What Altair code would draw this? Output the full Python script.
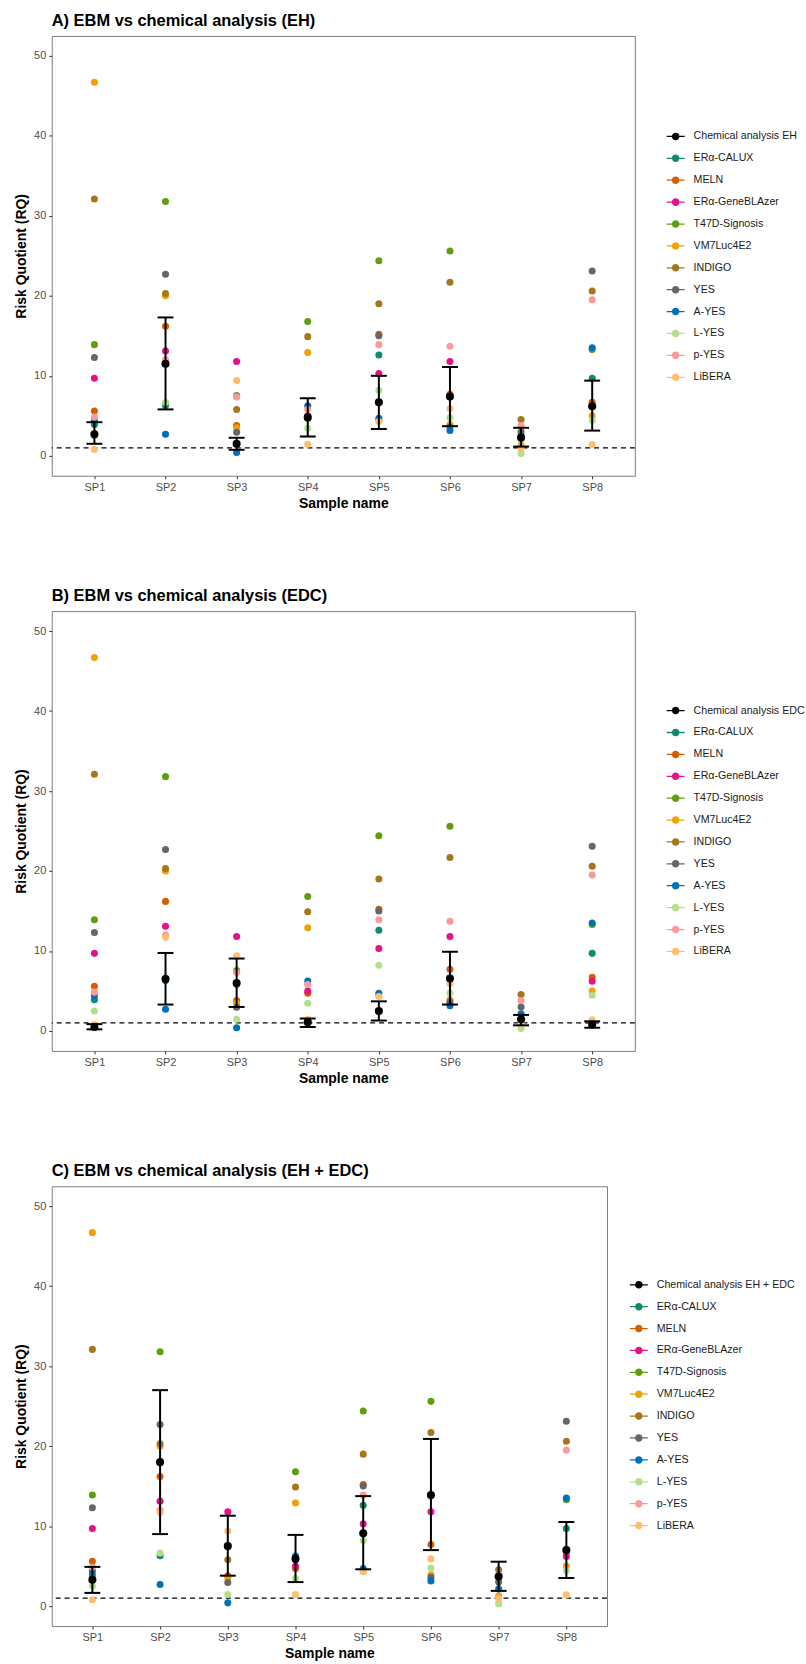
import altair as alt
import pandas as pd

samples = ["SP1", "SP2", "SP3", "SP4", "SP5", "SP6", "SP7", "SP8"]

assays = ["ERα-CALUX", "MELN", "ERα-GeneBLAzer", "T47D-Signosis", "VM7Luc4E2",
          "INDIGO", "YES", "A-YES", "L-YES", "p-YES", "LiBERA"]
assay_colors = ["#0E8A6E", "#D55E00", "#E6128A", "#5E9E0F", "#F0A202",
                "#A6761D", "#666666", "#0070B8", "#B2DF8A", "#FB9A99", "#FDBF6F"]

# EBM risk quotients per assay (SP1..SP8); None = not shown
rq_calux = [3.9, 6.3, None, None, 12.6, None, None, 9.7]
rq_meln = [5.6, 16.2, 3.8, 4.7, 15.2, 7.7, None, 6.7]
rq_geneblazer = [9.7, 13.1, 11.8, 5.0, 10.3, 11.8, None, 6.2]
rq_t47d = [13.9, 31.8, 7.55, 16.8, 24.4, 25.6, None, 13.3]
rq_vm7 = [46.7, 20.0, 3.5, 12.9, 4.4, 3.9, 1.3, 5.0]
rq_indigo = [32.1, 20.3, 5.8, 14.9, 19.0, 21.7, 4.55, 20.6]
rq_yes = [12.3, 22.7, 2.95, None, 15.0, 3.6, 3.0, 23.1]
rq_ayes = [4.4, 2.7, 0.4, 6.25, 4.7, 3.15, 2.15, 13.5]
rq_lyes = [2.5, 6.65, 1.45, 3.45, 8.2, 4.75, 0.3, 4.45]
rq_pyes = [4.85, 12.0, 7.35, 5.8, 13.9, 13.7, 3.8, 19.5]
rq_libera = [0.8, 11.7, 9.4, 1.45, 4.3, 5.9, 0.9, 1.4]

assay_values = [rq_calux, rq_meln, rq_geneblazer, rq_t47d, rq_vm7, rq_indigo,
                rq_yes, rq_ayes, rq_lyes, rq_pyes, rq_libera]

# Chemical analysis: mean, lower, upper
eh_mean = [2.7, 11.5, 1.5, 4.8, 6.7, 7.4, 2.3, 6.2]
eh_low = [1.5, 5.8, 0.75, 2.4, 3.35, 3.7, 1.15, 3.15]
eh_high = [4.2, 17.3, 2.25, 7.2, 10.0, 11.1, 3.5, 9.4]

edc_mean = [0.5, 6.5, 6.0, 1.1, 2.5, 6.55, 1.45, 0.8]
edc_low = [0.2, 3.3, 3.0, 0.5, 1.3, 3.3, 0.7, 0.4]
edc_high = [0.85, 9.75, 9.05, 1.55, 3.7, 9.9, 2.0, 1.2]

both_mean = [3.3, 18.0, 7.5, 5.9, 9.1, 13.9, 3.7, 7.0]
both_low = [1.65, 9.0, 3.8, 3.0, 4.6, 7.0, 1.9, 3.5]
both_high = [4.9, 27.0, 11.3, 8.9, 13.75, 20.9, 5.55, 10.5]

threshold = [1]

FONT = "Liberation Sans"

rows = []
for a, vals in zip(assays, assay_values):
    for s, v in zip(samples, vals):
        if v is not None:
            rows.append({"sample": s, "series": a, "value": v})
assay_df = pd.DataFrame(rows)

LEGEND_PATH = ("M-1,-0.07L-0.38,-0.07L-0.38,0.07L-1,0.07Z "
               "M0.38,-0.07L1,-0.07L1,0.07L0.38,0.07Z "
               "M0.42,0A0.42,0.42,0,1,1,-0.42,0A0.42,0.42,0,1,1,0.42,0Z")


def panel(title, tag, means, lows, highs, width, legend_x, legend_y):
    chem_label = f"Chemical analysis {tag}"
    chem_df = pd.DataFrame({"sample": samples, "value": means, "low": lows,
                            "high": highs, "series": chem_label})
    color_scale = alt.Scale(domain=[chem_label] + assays,
                            range=["#000000"] + assay_colors)
    legend = alt.Legend(title=None, orient="none", legendX=legend_x, legendY=legend_y,
                        direction="vertical", symbolType=LEGEND_PATH, symbolSize=324,
                        symbolStrokeWidth=0, symbolOpacity=1, labelFont=FONT,
                        labelFontSize=10.7, labelColor="#1A1A1A", labelOffset=9,
                        rowPadding=8, padding=0)
    xs = alt.Scale(type="point", domain=samples, padding=0.6)
    ys = alt.Scale(domain=[-2.5, 52.5], nice=False, zero=False)
    xaxis = alt.Axis(title="Sample name", labelAngle=0, labelPadding=3, titlePadding=4)
    yaxis = alt.Axis(title="Risk Quotient (RQ)", values=[0, 10, 20, 30, 40, 50],
                     labelPadding=3, titlePadding=5)

    def X():
        return alt.X("sample:N", scale=xs, axis=xaxis)

    hline = alt.Chart(pd.DataFrame({"y": threshold})).mark_rule(
        color="black", strokeDash=[5, 4], strokeWidth=1.2
    ).encode(y=alt.Y("y:Q", scale=ys, axis=yaxis))

    pts = alt.Chart(assay_df).mark_circle(size=50, opacity=1).encode(
        x=X(),
        y=alt.Y("value:Q", scale=ys, axis=yaxis),
        color=alt.Color("series:N", scale=color_scale, legend=legend),
    )
    rule = alt.Chart(chem_df).mark_rule(color="black", strokeWidth=2).encode(
        x=X(),
        y=alt.Y("low:Q", scale=ys, axis=yaxis),
        y2="high:Q",
    )
    cap_lo = alt.Chart(chem_df).mark_tick(color="black", thickness=2, size=16,
                                          orient="horizontal", opacity=1).encode(
        x=X(), y=alt.Y("low:Q", scale=ys, axis=yaxis))
    cap_hi = alt.Chart(chem_df).mark_tick(color="black", thickness=2, size=16,
                                          orient="horizontal", opacity=1).encode(
        x=X(), y=alt.Y("high:Q", scale=ys, axis=yaxis))
    chem = alt.Chart(chem_df).mark_circle(size=66, opacity=1).encode(
        x=X(),
        y=alt.Y("value:Q", scale=ys, axis=yaxis),
        color=alt.Color("series:N", scale=color_scale, legend=legend),
    )
    return alt.layer(hline, pts, rule, cap_lo, cap_hi, chem).properties(
        width=width, height=442,
        title=alt.TitleParams(title, anchor="start", frame="group"),
    )


pa = panel("A) EBM vs chemical analysis (EH)", "EH", eh_mean, eh_low, eh_high, 586, 618, 92)
pb = panel("B) EBM vs chemical analysis (EDC)", "EDC", edc_mean, edc_low, edc_high, 586, 618, 91)
pc = panel("C) EBM vs chemical analysis (EH + EDC)", "EH + EDC", both_mean, both_low,
           both_high, 558, 581, 90)

chart = alt.vconcat(pa, pb, pc, spacing=76).resolve_scale(
    color="independent", x="independent", y="independent"
).resolve_legend(color="independent").properties(
    padding={"left": 14, "top": 8, "right": 0, "bottom": 0}
).configure_view(
    stroke="#7F7F7F", strokeWidth=1
).configure_axis(
    domain=False, grid=False, tickColor="#333333", tickSize=3, tickWidth=1,
    labelColor="#4D4D4D", labelFont=FONT, labelFontSize=11,
    titleFont=FONT, titleFontSize=14, titleFontWeight="bold", titleColor="#000000",
).configure_title(
    font=FONT, fontSize=16.5, fontWeight="bold", color="#000000", offset=7
)

chart.save("out.html", embed_options={"renderer": "svg", "actions": False})
